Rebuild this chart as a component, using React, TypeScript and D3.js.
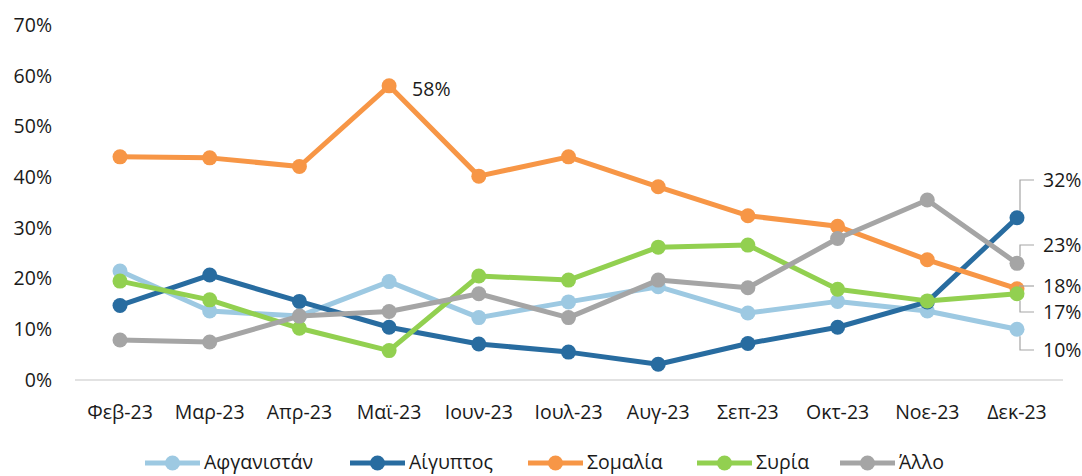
import React from "react";
import * as d3 from "d3";

const months = ["Φεβ-23", "Μαρ-23", "Απρ-23", "Μαϊ-23", "Ιουν-23", "Ιουλ-23", "Αυγ-23", "Σεπ-23", "Οκτ-23", "Νοε-23", "Δεκ-23"];
const afghanistan = [21.5, 13.6, 12.6, 19.4, 12.3, 15.4, 18.4, 13.2, 15.5, 13.6, 10];
const egypt = [14.7, 20.7, 15.5, 10.4, 7.1, 5.5, 3.1, 7.2, 10.4, 15.4, 32];
const somalia = [44.0, 43.8, 42.1, 58, 40.2, 44.0, 38.1, 32.4, 30.3, 23.7, 18];
const syria = [19.5, 15.8, 10.2, 5.8, 20.5, 19.7, 26.2, 26.6, 17.9, 15.6, 17];
const other = [7.9, 7.5, 12.6, 13.5, 17.0, 12.3, 19.7, 18.2, 27.9, 35.5, 23];
const yTicks = [0, 10, 20, 30, 40, 50, 60, 70];

const series = [
  { name: "Αφγανιστάν", values: afghanistan, color: "#9DC9E2" },
  { name: "Αίγυπτος", values: egypt, color: "#286CA0" },
  { name: "Σομαλία", values: somalia, color: "#F79646" },
  { name: "Συρία", values: syria, color: "#92D050" },
  { name: "Άλλο", values: other, color: "#A5A5A5" },
];

const W = 1082, H = 476;
const FONT = "'Open Sans', 'Noto Sans', sans-serif";
const FS = 19.5;

export default function App() {
  const x = d3.scalePoint<string>().domain(months).range([120, 1017]);
  const y = d3.scaleLinear().domain([0, 70]).range([380, 25]);
  const line = d3.line<number>().x((_, i) => x(months[i])!).y((v) => y(v));
  const last = months.length - 1;
  const lx = x(months[last])!;

  const endLabels = [
    { s: 1, ty: 180, text: "32%" },
    { s: 4, ty: 245, text: "23%" },
    { s: 2, ty: 286, text: "18%" },
    { s: 3, ty: 312, text: "17%" },
    { s: 0, ty: 350, text: "10%" },
  ];

  const legendX = [145, 350, 528, 697, 840];

  return (
    <svg width={W} height={H} style={{ position: "absolute", left: 0, top: 0, background: "#fff" }} fontFamily={FONT}>
      {yTicks.map((t) => (
        <text key={t} x={52} y={y(t)} dy="0.35em" textAnchor="end" fontSize={FS} fill="#1a1a1a">{t}%</text>
      ))}
      <line x1={75} x2={1063} y1={y(0)} y2={y(0)} stroke="#D9D9D9" strokeWidth={1.5} />
      {months.map((m) => (
        <text key={m} x={x(m)!} y={412} dy="0.35em" textAnchor="middle" fontSize={FS} fill="#1a1a1a">{m}</text>
      ))}
      {series.map((s) => (
        <g key={s.name}>
          <path d={line(s.values)!} fill="none" stroke={s.color} strokeWidth={5} strokeLinejoin="round" />
          {s.values.map((v, i) => (
            <circle key={i} cx={x(months[i])!} cy={y(v)} r={7.5} fill={s.color} />
          ))}
        </g>
      ))}
      <text x={x(months[3])! + 23} y={y(somalia[3]) + 3} dy="0.35em" fontSize={FS} fill="#1a1a1a">58%</text>
      {endLabels.map((l) => {
        const py = y(series[l.s].values[last]);
        const isFlat = Math.abs(py - l.ty) < 6;
        const d = isFlat
          ? `M${lx + 2},${l.ty} L${lx + 17},${l.ty}`
          : l.ty < py
          ? `M${lx + 3},${py - 7} L${lx + 3},${l.ty} L${lx + 17},${l.ty}`
          : `M${lx + 3},${py + 7} L${lx + 3},${l.ty} L${lx + 17},${l.ty}`;
        return (
          <g key={l.text}>
            <path d={d} fill="none" stroke="#A5A5A5" strokeWidth={1.2} />
            <text x={lx + 26} y={l.ty} dy="0.35em" fontSize={FS} fill="#1a1a1a">{l.text}</text>
          </g>
        );
      })}
      {series.map((s, i) => (
        <g key={s.name} transform={`translate(${legendX[i]},463)`}>
          <line x1={0} x2={55} y1={0} y2={0} stroke={s.color} strokeWidth={5} />
          <circle cx={27.5} cy={0} r={7.5} fill={s.color} />
          <text x={59} y={0} dy="0.32em" fontSize={FS} fill="#1a1a1a">{s.name}</text>
        </g>
      ))}
    </svg>
  );
}
